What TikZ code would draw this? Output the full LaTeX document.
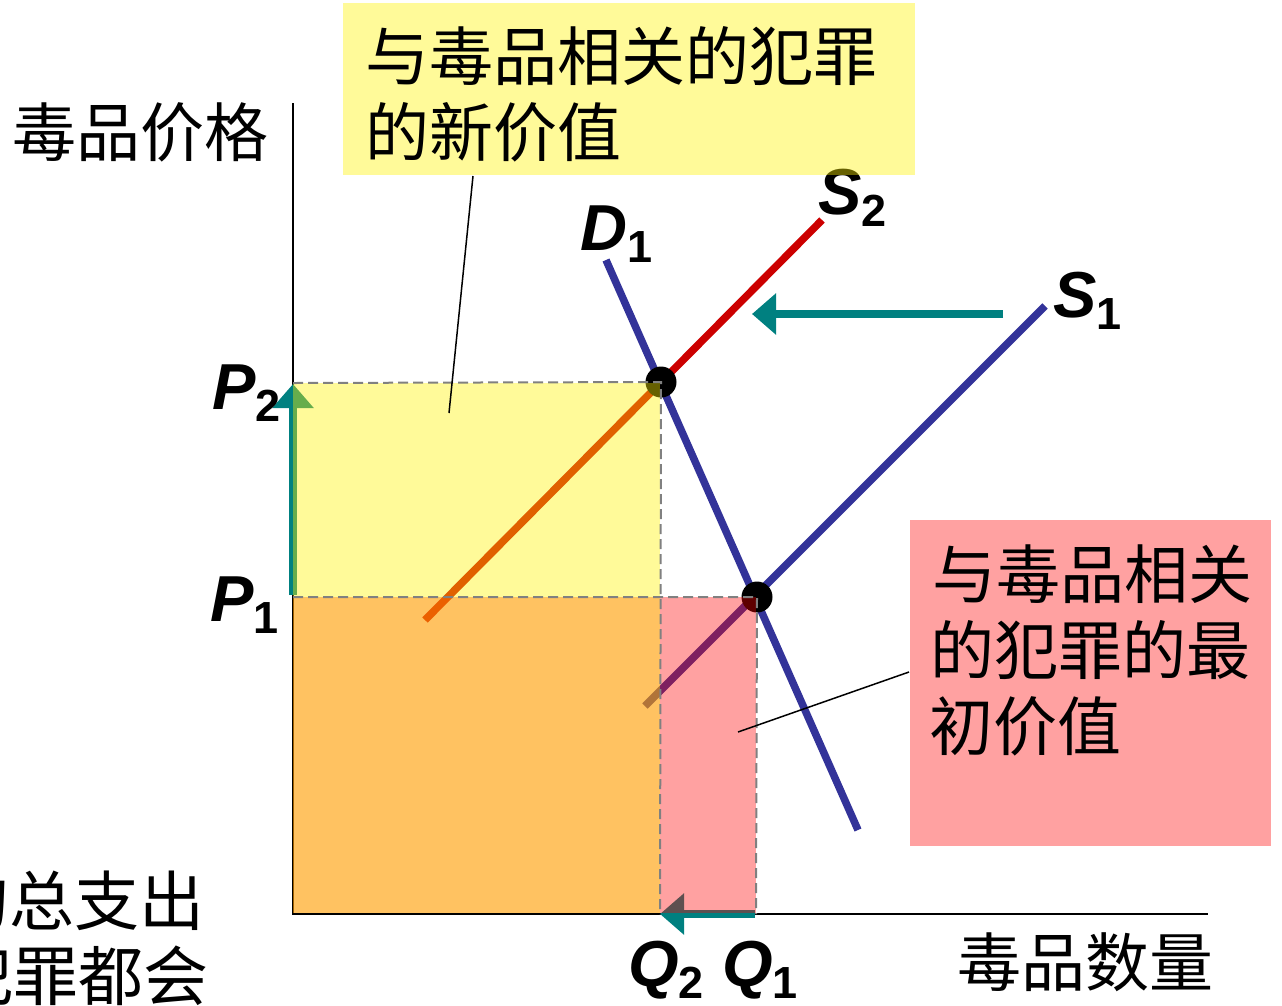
\documentclass[tikz,border=0pt]{standalone}
\usepackage{fontspec}
\newfontfamily\cjk{Noto Sans CJK SC}
\newfontfamily\arialfont{Liberation Sans}
\usetikzlibrary{arrows.meta}
\definecolor{dblue}{HTML}{333399}
\definecolor{dred}{HTML}{CC0000}
\definecolor{teal2}{HTML}{008080}
\definecolor{dgray}{HTML}{808080}
\newcommand{\varlab}[2]{{\arialfont\bfseries\itshape\fontsize{65}{65}\selectfont #1}{\arialfont\bfseries\fontsize{45}{45}\selectfont\raisebox{-12pt}{#2}}}
\tikzset{
  curve/.style={line width=7.5pt},
  axisline/.style={line width=2.5pt, black},
  shiftarrow/.style={line width=8pt, teal2, -{Triangle[length=24pt,width=40pt]}},
  guide/.style={dgray, line width=2pt, dash pattern=on 10pt off 5pt},
  cjktext/.style={font=\cjk\fontsize{64}{64}\selectfont, inner sep=0pt, anchor=base west},
  cjkbig/.style={font=\cjk\fontsize{65}{65}\selectfont, inner sep=0pt, anchor=base west},
  varlabel/.style={inner sep=0pt, anchor=base west},
  leader/.style={line width=1.5pt, black},
  eqdot/.style={circle, fill=black, minimum size=31pt, inner sep=0pt},
}
\begin{document}
\begin{tikzpicture}[x=1pt,y=-1pt]
\useasboundingbox (0,0) rectangle (1282,1005);
% axes
\coordinate (origin) at (293,914);
\coordinate (ytop) at (293,103);
\coordinate (xend) at (1208,914);
\draw[axisline] (ytop) -- (origin) -- (xend);
% curves
\coordinate (s2a) at (425,620); \coordinate (s2b) at (822,220);
\coordinate (s1a) at (645,706); \coordinate (s1b) at (1045,306);
\coordinate (d1a) at (606,260); \coordinate (d1b) at (858,830);
\draw[curve, dred] (s2a) -- (s2b);
\draw[curve, dblue] (s1a) -- (s1b);
\draw[curve, dblue] (d1a) -- (d1b);
% equilibria
\node[eqdot] (e2) at (661,382) {};
\node[eqdot] (e1) at (757,597) {};
% shift arrows
\coordinate (sa1) at (1003,314); \coordinate (sa2) at (752,314);
\draw[shiftarrow] (sa1) -- (sa2);
\coordinate (pa1) at (293,595); \coordinate (pa2) at (293,384);
\draw[shiftarrow] (pa1) -- (pa2);
\coordinate (qa1) at (755,914); \coordinate (qa2) at (660,914);
\draw[shiftarrow] (qa1) -- (qa2);
% regions
\fill[red, opacity=0.37] (293,597) rectangle (756,913);
\fill[yellow, opacity=0.4] (293,383) rectangle (660,913);
% guides
\coordinate (p2) at (293,383); \coordinate (q2) at (660,914);
\coordinate (p1) at (293,597); \coordinate (q1) at (756,914);
\draw[guide] (p2) -- (e2.center) -- (q2);
\draw[guide] (p1) -- (e1.center) -- (q1);
% labels
\node[varlabel] (ld1) at (580,250) {\varlab{D}{1}};
\node[varlabel] (ls2) at (818,214) {\varlab{S}{2}};
\node[varlabel] (ls1) at (1053,317) {\varlab{S}{1}};
\node[varlabel] (lp2) at (212,409) {\varlab{P}{2}};
\node[varlabel] (lp1) at (210,621) {\varlab{P}{1}};
\node[varlabel] (lq2) at (628,986) {\varlab{Q}{2}};
\node[varlabel] (lq1) at (722,986) {\varlab{Q}{1}};
% callout boxes
\fill[yellow, opacity=0.4] (343,3) rectangle (915,175);
\fill[red, opacity=0.37] (910,520) rectangle (1271,846);
\node[cjktext] (yt1) at (365,80) {与毒品相关的犯罪};
\node[cjktext] (yt2) at (365,156) {的新价值};
\node[cjktext] (pt1) at (932,598) {与毒品相关};
\node[cjktext] (pt2) at (930,674) {的犯罪的最};
\node[cjktext] (pt3) at (929,750) {初价值};
% leaders
\coordinate (yl1) at (473,176); \coordinate (yl2) at (449,413);
\draw[leader] (yl1) -- (yl2);
\coordinate (pl1) at (909,672); \coordinate (pl2) at (738,732);
\draw[leader] (pl1) -- (pl2);
% axis titles
\node[cjktext] (ytitle) at (12,156) {毒品价格};
\node[cjktext] (xtitle) at (957,986) {毒品数量};
\node[cjkbig] (bl1) at (-56,925) {的总支出};
\node[cjkbig] (bl2) at (-52,1000) {犯罪都会};
\end{tikzpicture}
\end{document}
